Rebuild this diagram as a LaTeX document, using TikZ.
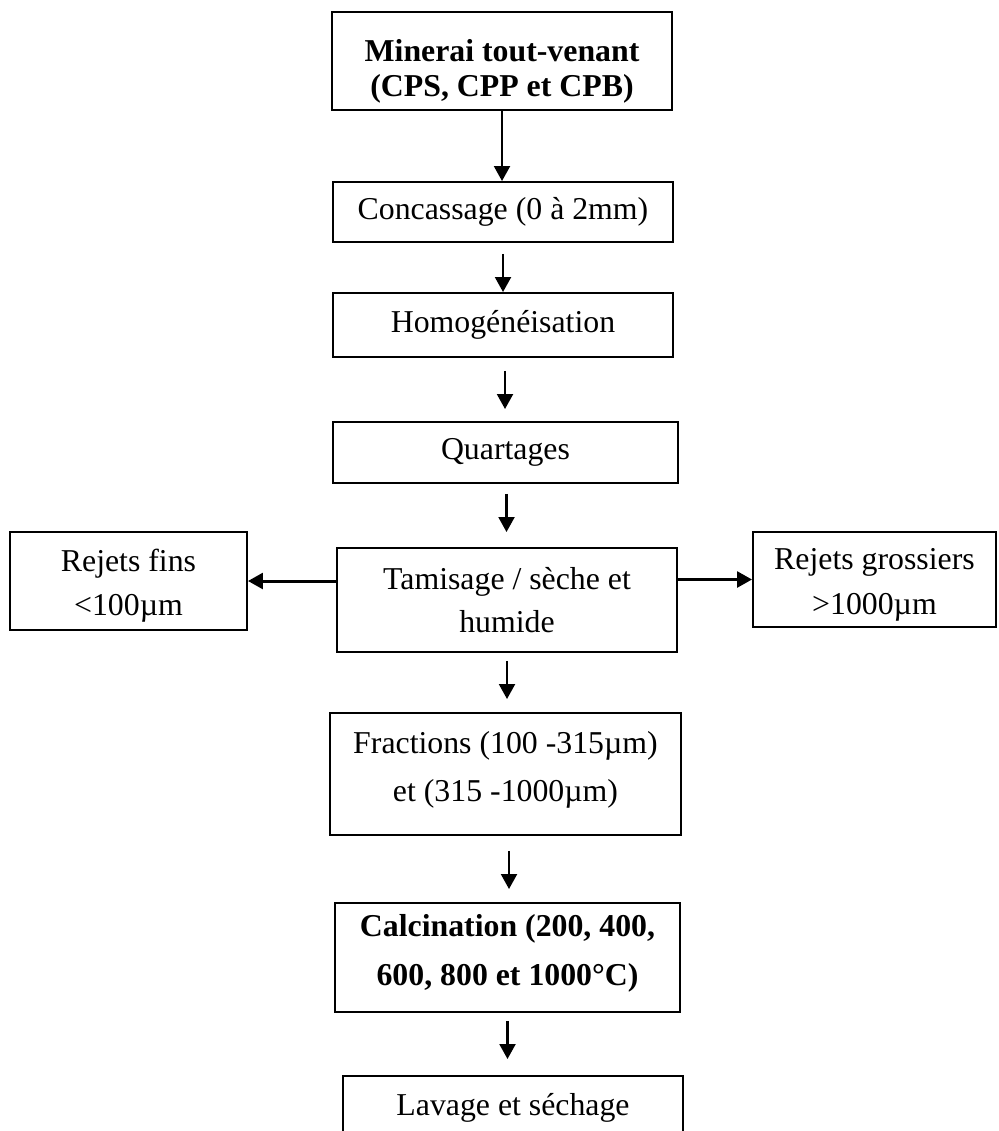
\documentclass[tikz,border=0pt]{standalone}
\usepackage{fontspec}
\setmainfont{Liberation Serif}
\usepackage{tikz}
\usetikzlibrary{arrows.meta}
\tikzstyle{stepbox} = [rectangle, draw=black, line width=1.1pt, inner sep=0pt, align=center, font=\fontsize{18.1}{27.5}\selectfont]
\tikzstyle{tightbox} = [stepbox, font=\fontsize{18.1}{19.9}\selectfont\bfseries]
\tikzstyle{arrow} = [line width=1.4pt, -{Triangle[length=8.5pt,width=9pt]}]
\tikzstyle{sidearrow} = [line width=1.7pt, -{Triangle[length=8.5pt,width=9pt]}]

\begin{document}
\begin{tikzpicture}

    \clip (0,0) rectangle (19.96,-22.62);

    % ===============================
    % 1. NODES
    % ===============================

    % Main column
    \node[tightbox, minimum width=6.8cm, minimum height=1.96cm] (minerai) at (10.04, -1.22) {\rule{0pt}{24pt}Minerai tout-venant\\(CPS, CPP et CPB)};
    \node[stepbox, minimum width=6.8cm, minimum height=1.2cm] (concass) at (10.06, -4.24) {Concassage (0 à 2mm)};
    \node[stepbox, minimum width=6.8cm, minimum height=1.28cm] (homog) at (10.06, -6.5) {Homogénéisation};
    \node[stepbox, minimum width=6.9cm, minimum height=1.22cm] (quart) at (10.11, -9.05) {Quartages};
    \node[stepbox, minimum width=6.8cm, minimum height=2.08cm, font=\fontsize{18.1}{24}\selectfont] (tamis) at (10.14, -12.0) {Tamisage / sèche et\\humide};

    % -------------------------------
    % SIDE BOXES (rejects)
    % -------------------------------
    \node[stepbox, minimum width=4.74cm, minimum height=1.96cm, font=\fontsize{18.1}{25.5}\selectfont] (fins) at (2.57, -11.62) {\rule{0pt}{18pt}Rejets fins\\<100µm};
    \node[stepbox, minimum width=4.86cm, minimum height=1.9cm, font=\fontsize{18.1}{25.5}\selectfont] (gros) at (17.49, -11.59) {\rule{0pt}{18pt}Rejets grossiers\\>1000µm};

    % -------------------------------
    % LOWER PART
    % -------------------------------
    \node[stepbox, minimum width=7.02cm, minimum height=2.44cm] (fract) at (10.11, -15.48) {Fractions (100 -315µm)\\et (315 -1000µm)\rule[-8.5pt]{0pt}{0pt}};
    \node[tightbox, minimum width=6.9cm, minimum height=2.18cm, font=\fontsize{18.1}{27.5}\selectfont\bfseries] (calcin) at (10.15, -19.15) {Calcination (200, 400,\\600, 800 et 1000°C)\rule[-8.5pt]{0pt}{0pt}};
    \node[stepbox, minimum width=6.8cm, minimum height=1.68cm] (lavage) at (10.26, -22.36) {\raisebox{0.55cm}{Lavage et séchage}};

    % ===============================
    % 2. CONNECTIONS
    % ===============================

    \draw[arrow] (minerai.south) -- (minerai.south |- concass.north);
    \draw[arrow, shorten <=0.22cm] (concass.south) -- (concass.south |- homog.north);
    \draw[arrow, shorten <=0.26cm, shorten >=0.24cm] ([xshift=0.04cm]homog.south) -- ([xshift=0.04cm]homog.south |- quart.north);
    \draw[arrow, shorten <=0.2cm, shorten >=0.3cm] ([xshift=0.02cm]quart.south) -- ([xshift=0.02cm]quart.south |- tamis.north);
    \draw[arrow, shorten <=0.16cm, shorten >=0.26cm] (tamis.south) -- (tamis.south |- fract.north);
    \draw[arrow, shorten <=0.3cm, shorten >=0.26cm] ([xshift=0.07cm]fract.south) -- ([xshift=0.07cm]fract.south |- calcin.north);
    \draw[arrow, shorten <=0.16cm, shorten >=0.32cm] (calcin.south) -- (calcin.south |- lavage.north);

    % Tamisage to rejects
    \draw[sidearrow] (fins.east -| tamis.west) -- (fins.east);
    \draw[sidearrow] (gros.west -| tamis.east) -- (gros.west);

\end{tikzpicture}
\end{document}
